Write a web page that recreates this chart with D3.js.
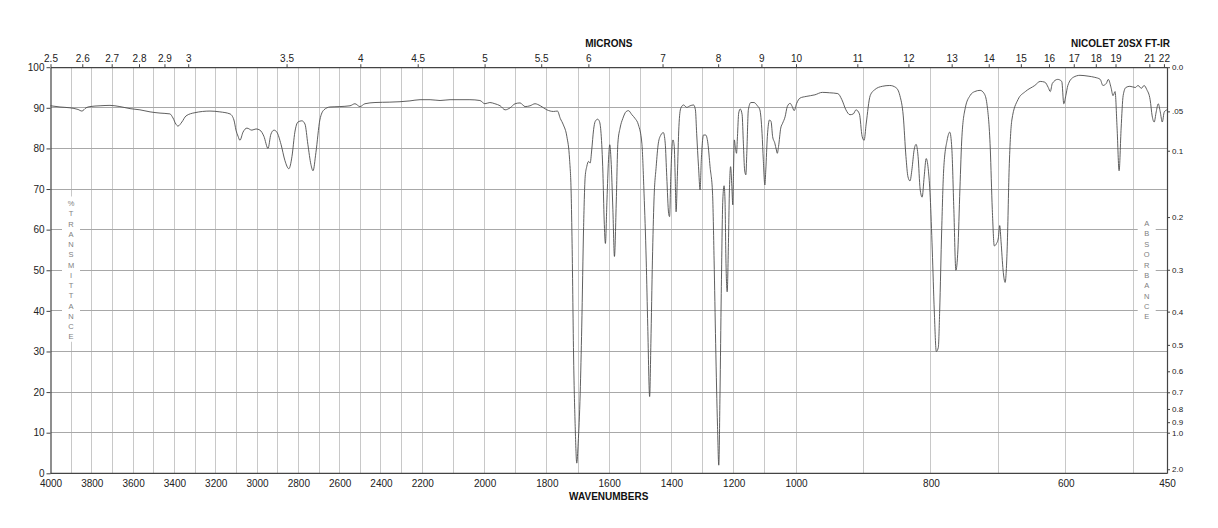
<!DOCTYPE html>
<html><head><meta charset="utf-8">
<script src="https://cdn.jsdelivr.net/npm/d3@7"></script>
<style>
body{margin:0;background:#fff;}
svg{display:block;font-family:"Liberation Sans",Arial,sans-serif;}
</style></head>
<body><svg id="c" width="1218" height="528"></svg>
<script>
// ---- data ----
const wavenumbers = [4000,3954,3906,3867,3848,3828,3809,3760,3712,3664,3615,3567,3518,3470,3422,3407,3393,3383,3364,3344,3301,3228,3180,3131,3112,3102,3092,3083,3068,3049,3025,3005,2986,2967,2947,2933,2918,2904,2884,2865,2846,2831,2817,2802,2783,2768,2754,2739,2729,2715,2696,2676,2647,2599,2550,2526,2502,2478,2429,2357,2308,2260,2211,2175,2143,2111,2079,2047,2015,1999,1983,1967,1950,1934,1918,1902,1886,1870,1854,1838,
1821,1800,1779,1766,1757,1747,1736,1727,1722,1719,1714,1709,1704,1699.5,1693,1688,1682,1677,1672,1666,1661,1656,1650,1645,1637,1631,1626,1620,1616,1612,1607,1602,1598,1594,1588,1583,1577,1572,1565,1556,1545,1538,1527,1517,1506,1495,1488,1481,1476,1470,1466,1461,1456,1449,1442,1434,1426,1420,1415,1409,1406,1402,1398,1395,1391,1388,1385,1381,1376,1370,1361,1351,1340,1329,1323,1319,1313,1308,1304,1297,1290,1283,1276,1268,1263,1258,1252,1248,1244,1240,1235,1231,1228,1225,1221,1217,1214,1210,1206,1203,1201,1198,1195,1191,1188,1184,1179,1173,1169,1165,1161,1158,1153,1145,1135,1124,1116,1109,1105,1100,1097,1092,1085,1080,1075,1068,1063,1060,1056,1049,1043,1035,1028,1019,1012,1006,999,
994,985,972,961,950,938,932,926,920,915,911,906,902,899,896,890,883,872,861,852,846,841,837,834,831,828,825,822,819,816,813,810,807,804,801,798,795,792,789,787,784,781,776,772,769,766,763,760,757,754,749,742,735,727,721,717,712,709,706,703,700,698,696,693,690,687,684,680,671,660,646,638,631,626,623,620,612,606,603,600,597,589,579,567,557,549,545,540,537,533,530,527,524,521,518,515,511,505,497,493,488,484,480,475,472,469,466,463,460,457,454,450];
const transmittance = [90.5,90.2,90,89.6,89.2,90,90.3,90.5,90.6,90.3,89.8,89.5,89,88.7,88.5,87.5,86,85.5,86.5,88,88.8,89.2,89,88.5,87,84.5,83,82,84,85,84.5,84.8,84.5,83,80,83.5,84.5,84,81,77,75,78,84,86.5,86.8,86,81,76,74.5,79,87,89.5,90.2,90.3,90.5,91,90.3,91,91.3,91.4,91.5,91.7,92,92,91.8,92,92,92,91.8,91,91.3,91,90.5,89.5,90,91,91.2,90.3,90.5,91,
90.5,89.5,89.1,89.2,87.4,85.8,83,77.2,69,56.6,27.9,11.5,2.5,7.4,19.7,36,60.8,73,75.5,76.8,76.4,79.6,84.6,86.6,87.2,86.6,83.7,73.9,62.4,56.6,67.3,77.2,80.9,77.2,64.9,53.4,67.3,81.3,85,87.4,89.1,89.3,88.3,87.4,85.8,81.3,69,52.5,36.1,18.9,32,52.5,67.3,75.5,81.3,83.3,83.9,81.3,73.1,64,63.2,73.1,80.5,82.1,80.5,73.1,64.4,73.1,85.4,89.9,90.7,90.1,90.5,90.7,89.5,83.7,75.5,69.8,77.2,83.3,83.3,81.3,75.5,69,52.5,32,11.5,2,19.7,44.3,67.3,70.8,67.3,52.5,44.7,56.6,69,75.5,70.6,66.1,73.1,82.1,80.5,78.8,82.9,88.7,89.7,88.3,81.3,74.7,73.5,78.8,89.5,91.3,91.3,90.5,89.5,83.7,77.2,71,74.7,82.9,87,86.6,82.9,81.3,79.6,78.8,80.5,85,86.2,87.8,90.3,91.1,90.3,89.3,91.1,
92.4,92.8,93.2,93.8,93.7,93.5,92,89.5,88.3,88.5,89.5,88.5,83,82,86,93,94.5,95.3,95.5,95,93,88,78,73,72,75,79.5,81,78,70,68,73,77.5,75,68,55,40,30,31,40,60,75,82,84,80,65,50,55,70,83,90,93,94,94.3,93.5,91,80,65,56,56.5,58,61,57,50,47,55,75,87,92,94,95.5,96.5,96.3,95,94,96,97,96.5,91,93,95.5,97.5,98,97.8,97.5,97,95.5,96,97,95,93,94,85,74.5,85,93,95,95.3,95,95.5,94.8,95.5,94.5,92,88,86.5,89,91,89,86.5,89,89.5];

const bottomTicks = [4000,3800,3600,3400,3200,3000,2800,2600,2400,2200,2000,1800,1600,1400,1200,1000,800,600,450];
const gridWavenumbers = [3900,3800,3700,3600,3500,3400,3300,3200,3100,3000,2900,2800,2700,2600,2500,2400,2300,2200,2100,2000,1900,1800,1700,1600,1500,1400,1300,1200,1100,1000,900,800,700,600,500];
const micronTicks = [2.5,2.6,2.7,2.8,2.9,3,3.5,4,4.5,5,5.5,6,7,8,9,10,11,12,13,14,15,16,17,18,19,21,22];
const transTicks = [0,10,20,30,40,50,60,70,80,90,100];
const absTicks = [0.0,0.05,0.1,0.2,0.3,0.4,0.5,0.6,0.7,0.8,0.9,1.0,2.0];
const absLabels = ["0.0",".05","0.1","0.2","0.3","0.4","0.5","0.6","0.7","0.8","0.9","1.0","2.0"];

// ---- scales ----
const L=50.5, R=1167, T=67.2, B=473.3;
const x = d3.scaleLinear().domain([4000,2200,1000,450]).range([L,422.3,796,R]);
const y = d3.scaleLinear().domain([0,100]).range([B,T]);
const svg = d3.select("#c");

// grid
svg.append("g").selectAll("line").data(gridWavenumbers).join("line")
  .attr("x1",d=>x(d)).attr("x2",d=>x(d)).attr("y1",T).attr("y2",B)
  .attr("stroke","#c8c8c8").attr("stroke-width",1).attr("shape-rendering","crispEdges");
svg.append("g").selectAll("line").data(transTicks.slice(1,-1)).join("line")
  .attr("x1",L).attr("x2",R).attr("y1",d=>y(d)).attr("y2",d=>y(d))
  .attr("stroke","#a8a8a8").attr("stroke-width",1).attr("shape-rendering","crispEdges");

// vertical stacked labels
function stacked(txt, cx, y0, step){
  const g = svg.append("g");
  const chars = Array.from(txt);
  g.append("rect").attr("x",cx-9).attr("y",y0-7).attr("width",18).attr("height",(chars.length-1)*step+12).attr("fill","#fff");
  g.selectAll("text").data(chars).join("text")
    .attr("x",cx).attr("y",(d,i)=>y0+i*step).attr("dy","0.35em").attr("text-anchor","middle")
    .attr("font-size","7.5px").attr("fill","#808080").text(d=>d);
}
stacked("%TRANSMITTANCE", 71, 203.5, 10.25);
stacked("ABSORBANCE", 1146.7, 223.5, 10.35);

// spectrum
const pts = wavenumbers.map((w,i)=>[w,transmittance[i]]);
svg.append("path").datum(pts)
  .attr("d", d3.line().x(d=>x(d[0])).y(d=>y(d[1])).curve(d3.curveMonotoneX))
  .attr("fill","none").attr("stroke","#4d4d4d").attr("stroke-width",0.9);

// axes
const axisColor="#444";
const gB = svg.append("g").attr("transform",`translate(0,${B})`)
  .call(d3.axisBottom(x).tickValues(bottomTicks).tickSize(0).tickPadding(7).tickFormat(d3.format("d")));
const gL = svg.append("g").attr("transform",`translate(${L},0)`)
  .call(d3.axisLeft(y).tickValues(transTicks).tickSize(4).tickSizeOuter(0).tickPadding(2));
const gT = svg.append("g").attr("transform",`translate(0,${T})`)
  .call(d3.axisTop(x).tickValues(micronTicks.map(m=>10000/m)).tickSize(3).tickSizeOuter(0).tickPadding(2)
    .tickFormat((d,i)=>String(micronTicks[i])));
const gR = svg.append("g").attr("transform",`translate(${R},0)`)
  .call(d3.axisRight(y).tickValues(absTicks.map(a=>100*Math.pow(10,-a))).tickSize(3).tickSizeOuter(0).tickPadding(2)
    .tickFormat((d,i)=>absLabels[i]));
[gB,gL,gT,gR].forEach(g=>{
  g.select(".domain").attr("stroke",axisColor).attr("stroke-width",1.2);
  g.selectAll(".tick line").attr("stroke",axisColor);
  g.selectAll("text").attr("fill","#222").attr("font-family","Liberation Sans, Arial, sans-serif");
});
gB.selectAll("text").attr("font-size","10px");
gL.selectAll("text").attr("font-size","10px");
gT.selectAll("text").attr("font-size","10px");
gR.selectAll("text").attr("font-size","8px");
gB.select(".domain").attr("d",`M${L},0H${R}`);

// titles
svg.append("text").attr("x",(L+R)/2).attr("y",47).attr("text-anchor","middle")
  .attr("font-size","10px").attr("font-weight","bold").attr("fill","#111").text("MICRONS");
svg.append("text").attr("x",1170).attr("y",47).attr("text-anchor","end")
  .attr("font-size","10px").attr("font-weight","bold").attr("fill","#111").text("NICOLET 20SX FT-IR");
svg.append("text").attr("x",(L+R)/2).attr("y",500).attr("text-anchor","middle")
  .attr("font-size","10px").attr("font-weight","bold").attr("fill","#111").text("WAVENUMBERS");
</script></body></html>
